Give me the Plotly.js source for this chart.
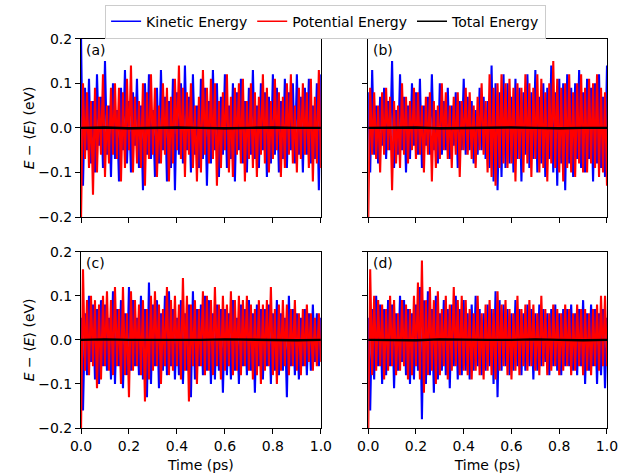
<!DOCTYPE html>
<html><head><meta charset="utf-8">
<script src="https://cdn.plot.ly/plotly-3.0.1.min.js"></script>
<style>html,body{margin:0;padding:0;background:#fff}#chart{width:631px;height:473px}</style>
</head><body><div id="chart"></div>
<script>
// Kinetic / potential energy deviations (eV), 121 samples over 0–1 ps
const kinA = [0.21,-0.13,0.09,-0.05,0.11,-0.08,0.06,-0.10,0.12,-0.04,
0.07,-0.09,0.15,-0.06,0.05,-0.11,0.10,-0.07,0.04,-0.12,
0.09,-0.05,0.13,-0.08,0.06,-0.10,0.08,-0.04,0.11,-0.09,
0.05,-0.14,0.10,-0.06,0.12,-0.07,0.04,-0.11,0.09,-0.08,
0.13,-0.05,0.07,-0.12,0.06,-0.09,0.11,-0.14,0.08,-0.06,
0.10,-0.08,0.14,-0.05,0.07,-0.10,0.12,-0.06,0.05,-0.09,
0.11,-0.07,0.09,-0.13,0.06,-0.08,0.13,-0.05,0.10,-0.11,
0.07,-0.06,0.12,-0.09,0.05,-0.07,0.10,-0.12,0.08,-0.05,
0.11,-0.08,0.06,-0.10,0.09,-0.06,0.13,-0.07,0.05,-0.09,
0.10,-0.05,0.08,-0.11,0.07,-0.08,0.12,-0.06,0.09,-0.10,
0.06,-0.07,0.11,-0.09,0.08,-0.05,0.10,-0.08,0.12,-0.06,
0.07,-0.10,0.09,-0.06,0.11,-0.08,0.05,-0.07,0.10,-0.14,0.12];
const potA = [-0.21,0.10,-0.07,0.08,-0.09,0.06,-0.15,0.09,-0.10,0.07,
-0.06,0.12,-0.11,0.05,-0.08,0.09,-0.06,0.10,-0.07,0.09,
-0.12,0.08,-0.09,0.11,-0.05,0.14,-0.10,0.07,-0.08,0.06,
-0.09,0.10,-0.13,0.08,-0.07,0.12,-0.06,0.09,-0.11,0.05,
-0.08,0.10,-0.06,0.09,-0.12,0.07,-0.08,0.11,-0.05,0.14,
-0.07,0.09,-0.11,0.08,-0.06,0.10,-0.09,0.05,-0.12,0.07,
-0.10,0.13,-0.06,0.09,-0.08,0.11,-0.07,0.10,-0.13,0.06,
-0.09,0.08,-0.05,0.12,-0.10,0.07,-0.11,0.09,-0.06,0.10,
-0.08,0.11,-0.12,0.06,-0.07,0.10,-0.09,0.08,-0.11,0.07,
-0.06,0.12,-0.08,0.09,-0.10,0.06,-0.07,0.11,-0.05,0.08,
-0.11,0.07,-0.09,0.10,-0.06,0.12,-0.08,0.05,-0.10,0.09,
-0.07,0.10,-0.06,0.08,-0.09,0.11,-0.12,0.07,-0.08,0.13,-0.09];
const kinB = [0.08,-0.10,0.13,-0.06,0.05,-0.08,0.07,-0.04,0.09,-0.07,
0.06,-0.05,0.15,-0.09,0.04,-0.06,0.12,-0.05,0.07,-0.10,
0.05,-0.07,0.10,-0.04,0.08,-0.06,0.11,-0.09,0.05,-0.04,
0.07,-0.06,0.12,-0.05,0.04,-0.08,0.10,-0.06,0.06,-0.05,
0.09,-0.07,0.05,-0.04,0.08,-0.09,0.06,-0.05,0.11,-0.06,
0.07,-0.05,0.06,-0.08,0.04,-0.06,0.09,-0.05,0.07,-0.07,
0.06,-0.09,0.14,-0.12,0.10,-0.14,0.08,-0.11,0.12,-0.09,
0.10,-0.08,0.07,-0.10,0.11,-0.07,0.09,-0.12,0.08,-0.06,
0.12,-0.09,0.08,-0.07,0.13,-0.10,0.07,-0.08,0.10,-0.11,
0.09,-0.07,0.14,-0.10,0.08,-0.13,0.11,-0.08,0.10,-0.14,
0.12,-0.08,0.09,-0.11,0.10,-0.07,0.13,-0.09,0.08,-0.10,
0.11,-0.07,0.09,-0.12,0.10,-0.08,0.12,-0.09,0.07,-0.11,0.14];
const potB = [-0.21,0.09,-0.06,0.08,-0.07,0.05,-0.10,0.08,-0.06,0.09,
-0.05,0.07,-0.14,0.06,-0.08,0.05,-0.09,0.10,-0.06,0.07,
-0.08,0.06,-0.05,0.09,-0.07,0.08,-0.06,0.05,-0.10,0.07,
-0.06,0.08,-0.12,0.06,-0.09,0.05,-0.07,0.10,-0.05,0.08,
-0.07,0.05,-0.09,0.07,-0.06,0.08,-0.11,0.06,-0.05,0.09,
-0.06,0.08,-0.07,0.05,-0.09,0.07,-0.05,0.10,-0.06,0.06,
-0.10,0.12,-0.11,0.09,-0.13,0.10,-0.09,0.12,-0.08,0.10,
-0.09,0.11,-0.08,0.09,-0.12,0.10,-0.07,0.09,-0.10,0.12,
-0.08,0.10,-0.11,0.09,-0.07,0.12,-0.10,0.11,-0.09,0.08,
-0.12,0.10,-0.08,0.15,-0.09,0.11,-0.10,0.09,-0.12,0.10,
-0.09,0.12,-0.10,0.08,-0.11,0.10,-0.08,0.12,-0.10,0.09,
-0.10,0.11,-0.08,0.10,-0.09,0.12,-0.11,0.09,-0.10,0.08,-0.13];
const kinC = [0.05,-0.16,0.06,-0.08,0.10,-0.05,0.08,-0.09,0.07,-0.10,
0.09,-0.06,0.08,-0.07,0.05,-0.09,0.11,-0.10,0.07,-0.06,
0.09,-0.11,0.06,-0.08,0.12,-0.07,0.09,-0.06,0.05,-0.08,
0.10,-0.09,0.07,-0.13,0.13,-0.10,0.08,-0.06,0.09,-0.11,
0.06,-0.07,0.10,-0.08,0.11,-0.06,0.07,-0.09,0.05,-0.08,
0.09,-0.10,0.06,-0.07,0.08,-0.13,0.11,-0.09,0.07,-0.06,
0.08,-0.08,0.10,-0.07,0.09,-0.10,0.06,-0.09,0.08,-0.07,
0.07,-0.12,0.07,-0.08,0.06,-0.09,0.09,-0.07,0.05,-0.10,
0.08,-0.06,0.07,-0.08,0.09,-0.07,0.06,-0.12,0.08,-0.06,
0.07,-0.09,0.07,-0.06,0.08,-0.10,0.06,-0.07,0.09,-0.08,
0.06,-0.07,0.05,-0.13,0.10,-0.06,0.07,-0.08,0.06,-0.09,
0.05,-0.06,0.07,-0.08,0.06,-0.07,0.08,-0.05,0.06,-0.06,0.05];
const potC = [-0.21,0.16,-0.07,0.09,-0.08,0.10,-0.06,0.09,-0.11,0.08,
-0.09,0.10,-0.06,0.11,-0.07,0.09,-0.08,0.12,-0.06,0.07,
-0.10,0.12,-0.08,0.06,-0.13,0.11,-0.07,0.09,-0.06,0.08,
-0.08,0.09,-0.14,0.07,-0.09,0.10,-0.07,0.11,-0.06,0.08,
-0.10,0.07,-0.06,0.12,-0.08,0.09,-0.07,0.10,-0.06,0.08,
-0.09,0.14,-0.07,0.10,-0.14,0.08,-0.06,0.09,-0.10,0.07,
-0.06,0.11,-0.08,0.10,-0.07,0.09,-0.08,0.12,-0.06,0.08,
-0.09,0.10,-0.07,0.08,-0.06,0.11,-0.08,0.09,-0.07,0.10,
-0.08,0.09,-0.06,0.10,-0.07,0.08,-0.09,0.07,-0.08,0.09,
-0.10,0.08,-0.07,0.09,-0.06,0.12,-0.08,0.07,-0.10,0.08,
-0.07,0.09,-0.06,0.08,-0.08,0.07,-0.06,0.09,-0.07,0.06,
-0.08,0.07,-0.06,0.08,-0.05,0.06,-0.07,0.05,-0.06,0.06,-0.05];
const kinD = [0.05,-0.16,0.07,-0.09,0.10,-0.06,0.08,-0.10,0.07,-0.08,
0.09,-0.06,0.08,-0.11,0.06,-0.07,0.10,-0.05,0.09,-0.08,
0.07,-0.10,0.06,-0.09,0.08,-0.07,0.12,-0.18,0.09,-0.10,
0.11,-0.08,0.07,-0.12,0.10,-0.09,0.06,-0.07,0.09,-0.08,
0.07,-0.11,0.08,-0.06,0.10,-0.09,0.07,-0.08,0.09,-0.07,
0.06,-0.09,0.08,-0.07,0.10,-0.06,0.07,-0.08,0.06,-0.07,
0.08,-0.06,0.07,-0.10,0.11,-0.13,0.09,-0.07,0.08,-0.06,
0.07,-0.08,0.06,-0.07,0.09,-0.06,0.07,-0.08,0.06,-0.07,
0.08,-0.06,0.07,-0.09,0.06,-0.07,0.08,-0.06,0.07,-0.05,
0.06,-0.08,0.07,-0.06,0.08,-0.07,0.06,-0.08,0.07,-0.06,
0.07,-0.06,0.08,-0.07,0.06,-0.08,0.07,-0.06,0.09,-0.10,
0.06,-0.07,0.08,-0.06,0.07,-0.10,0.06,-0.08,0.07,-0.11,0.05];
const potD = [-0.21,0.16,-0.08,0.10,-0.07,0.09,-0.06,0.08,-0.09,0.07,
-0.07,0.10,-0.06,0.09,-0.08,0.06,-0.07,0.09,-0.06,0.08,
-0.09,0.07,-0.08,0.10,-0.06,0.13,-0.09,0.18,-0.12,0.09,
-0.08,0.12,-0.07,0.09,-0.10,0.11,-0.08,0.07,-0.06,0.10,
-0.09,0.08,-0.07,0.12,-0.06,0.09,-0.08,0.10,-0.07,0.09,
-0.08,0.07,-0.09,0.06,-0.07,0.10,-0.08,0.06,-0.09,0.08,
-0.07,0.09,-0.08,0.07,-0.09,0.11,-0.07,0.08,-0.06,0.09,
-0.08,0.07,-0.09,0.06,-0.07,0.10,-0.08,0.07,-0.06,0.08,
-0.07,0.09,-0.06,0.08,-0.07,0.06,-0.08,0.10,-0.06,0.07,
-0.08,0.06,-0.07,0.08,-0.06,0.07,-0.08,0.06,-0.07,0.08,
-0.06,0.07,-0.08,0.06,-0.07,0.08,-0.06,0.07,-0.08,0.07,
-0.07,0.06,-0.08,0.07,-0.06,0.08,-0.07,0.10,-0.06,0.10,-0.06];
// Total energy deviation (nearly constant), 11 samples over 0–1 ps
const totA = [0.000,0.001,-0.001,0.000,0.001,0.000,-0.001,0.000,0.001,0.000,0.000];
const totB = [0.000,0.000,0.001,-0.001,0.000,0.000,0.001,0.000,-0.001,0.000,0.000];
const totC = [0.000,0.001,0.000,0.000,-0.001,0.000,0.001,0.000,0.000,-0.001,0.000];
const totD = [0.000,0.000,-0.001,0.001,0.000,0.000,0.000,0.001,0.000,-0.001,0.000];
const panelLabels = ['(a)','(b)','(c)','(d)'];
const seriesNames = ['Kinetic Energy','Potential Energy','Total Energy'];
const seriesColors = ['#0000ff','#ff0000','#000000'];

const N = kinA.length;
const t = Array.from({length:N},(_,i)=>i/(N-1));
const tT = Array.from({length:totA.length},(_,i)=>i/(totA.length-1));

const panels = [[kinA,potA,totA],[kinB,potB,totB],[kinC,potC,totC],[kinD,potD,totD]];
const traces = [];
panels.forEach((p,k)=>{
  const ax = k===0 ? '' : String(k+1);
  traces.push({x:t,y:p[0],type:'scatter',mode:'lines',line:{color:seriesColors[0],width:2.1},xaxis:'x'+ax,yaxis:'y'+ax,showlegend:false});
  traces.push({x:t,y:p[1],type:'scatter',mode:'lines',line:{color:seriesColors[1],width:2.1},xaxis:'x'+ax,yaxis:'y'+ax,showlegend:false});
  traces.push({x:tT,y:p[2],type:'scatter',mode:'lines',line:{color:seriesColors[2],width:2.4},xaxis:'x'+ax,yaxis:'y'+ax,showlegend:false});
});
// legend entries (thin sample lines as in the original legend)
seriesNames.forEach((nm,i)=>{
  traces.push({x:[null],y:[null],type:'scatter',mode:'lines',name:nm,line:{color:seriesColors[i],width:1.5},xaxis:'x',yaxis:'y',showlegend:true,legendrank:i+1});
});

const font = {family:'DejaVu Sans', size:14, color:'#000'};
function xax(dom, anchor, labels){
  return {domain:dom, anchor:anchor, range:[0,1], tickvals:[0,0.2,0.4,0.6,0.8,1.0], tickformat:'.1f',
    showticklabels:labels, ticks:'outside', ticklen:5, tickwidth:1, tickcolor:'#000',
    showline:true, mirror:true, linecolor:'#000', linewidth:1, showgrid:false, zeroline:false,
    tickfont:font, title: labels ? {text:'Time (ps)', font:font, standoff:8} : {text:''}};
}
function yax(dom, anchor, labels){
  return {domain:dom, anchor:anchor, range:[-0.2,0.2], tickvals:[-0.2,-0.1,0,0.1,0.2], tickformat:'.1f',
    showticklabels:labels, ticks:'outside', ticklen:5, tickwidth:1, tickcolor:'#000',
    showline:true, mirror:true, linecolor:'#000', linewidth:1, showgrid:false, zeroline:false,
    tickfont:font, title: labels ? {text:'<i>E</i> − ⟨<i>E</i>⟩ (eV)', font:font, standoff:0} : {text:''}};
}
const xL=[0,0.456], xR=[0.546,1], yT=[0.542,1], yB=[0,0.453];
const annos = [[0.005,1],[0.551,1],[0.005,0.453],[0.551,0.453]].map((p,i)=>({
  text:panelLabels[i], xref:'paper', yref:'paper', x:p[0], y:p[1], xanchor:'left', yanchor:'top',
  yshift:-1, showarrow:false, font:font}));

const layout = {
  width:631, height:473, paper_bgcolor:'#fff', plot_bgcolor:'#fff',
  margin:{l:81, r:24, t:33, b:45},
  font:font, showlegend:true,
  legend:{orientation:'h', xref:'container', yref:'container', x:0.516, y:0.99, xanchor:'center', yanchor:'top',
    bgcolor:'rgba(255,255,255,0.8)', bordercolor:'#cccccc', borderwidth:1, font:font, itemwidth:30, tracegroupgap:0},
  xaxis:xax(xL,'y',false), yaxis:yax(yT,'x',true),
  xaxis2:xax(xR,'y2',false), yaxis2:yax(yT,'x2',false),
  xaxis3:xax(xL,'y3',true), yaxis3:yax(yB,'x3',true),
  xaxis4:xax(xR,'y4',true), yaxis4:yax(yB,'x4',false),
  annotations:annos
};
Plotly.newPlot('chart', traces, layout, {displayModeBar:false, staticPlot:true});
</script></body></html>
